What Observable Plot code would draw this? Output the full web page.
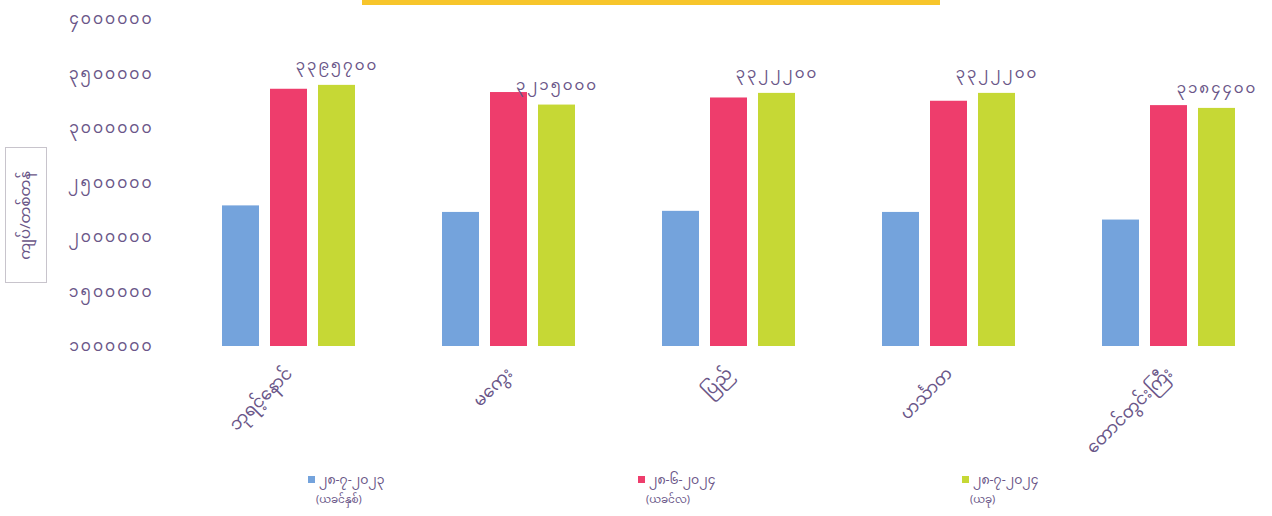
<!DOCTYPE html>
<html>
<head>
<meta charset="utf-8">
<script src="https://cdn.jsdelivr.net/npm/d3@7"></script>
<script src="https://cdn.jsdelivr.net/npm/@observablehq/plot@0.6"></script>
<style>
  html, body { margin: 0; padding: 0; background: #ffffff; }
  body { width: 1272px; height: 516px; position: relative; overflow: hidden;
         font-family: "Noto Sans Myanmar", "Padauk", "Myanmar Text", "Noto Sans", sans-serif; color: #6a5688; }
  #title-strip { position: absolute; left: 362px; top: 0; width: 578px; height: 5px; background: #f7c52b; }
  #ylabel { position: absolute; left: 5px; top: 147px; width: 40px; height: 134px; border: 1px solid #c8c4cc;
            display: flex; align-items: center; justify-content: center; }
  #ylabel span { writing-mode: vertical-rl; transform: rotate(180deg); font-size: 15px; white-space: nowrap; }
  #legend { position: relative; height: 46px; }
  .item { position: absolute; top: 1px; }
  .item .l1 { font-size: 12.5px; line-height: 20px; height: 20px; white-space: nowrap; }
  .item .l2 { font-size: 10.5px; line-height: 20px; height: 20px; white-space: nowrap; padding-left: 8px; }
  .sw { display: inline-block; width: 7px; height: 7px; margin-right: 4px; vertical-align: 1px; }
  .spaced text { letter-spacing: 2px; }
</style>
</head>
<body>
<div id="title-strip"></div>
<div id="chart"></div>
<div id="legend"></div>
<div id="ylabel"><span></span></div>
<script>
const regions = ["ဘုရင့်နောင်", "မကွေး", "ပြည်", "ဟင်္သာတ", "တောင်တွင်းကြီး"];
const seriesKeys = ["s1", "s2", "s3"];
const seriesDates = ["၂၈-၇-၂၀၂၃", "၂၈-၆-၂၀၂၄", "၂၈-၇-၂၀၂၄"];
const seriesNotes = ["(ယခင်နှစ်)", "(ယခင်လ)", "(ယခု)"];
const seriesColors = ["#74a3dc", "#ee3d6c", "#c6d835"];
const prevYear  = [2290000, 2230000, 2240000, 2230000, 2160000];
const prevMonth = [3360000, 3330000, 3280000, 3250000, 3210000];
const current   = [3395700, 3215000, 3322200, 3322200, 3184400];
const yTicks = [1000000, 1500000, 2000000, 2500000, 3000000, 3500000, 4000000];
const yTickLabels = ["၁၀၀၀၀၀၀", "၁၅၀၀၀၀၀", "၂၀၀၀၀၀၀", "၂၅၀၀၀၀၀", "၃၀၀၀၀၀၀", "၃၅၀၀၀၀၀", "၄၀၀၀၀၀၀"];
const yBase = 1000000;
const yTop = 4000000;
const yTitle = "ကျပ်/တစ်တန်";

const mmDigits = "၀၁၂၃၄၅၆၇၈၉";
const toMM = v => String(v).replace(/[0-9]/g, d => mmDigits[+d]);

const seriesValues = [prevYear, prevMonth, current];
const rows = [];
regions.forEach((r, i) => seriesKeys.forEach((k, j) => rows.push({region: r, series: k, value: seriesValues[j][i]})));
const labelRows = regions.map((r, i) => ({region: r, series: "s3", value: current[i], label: toMM(current[i])}));

const textColor = "#6a5688";
const font = "'Noto Sans Myanmar', 'Padauk', 'Myanmar Text', 'Noto Sans', sans-serif";

const chart = Plot.plot({
  width: 1272,
  height: 470,
  marginLeft: 221,
  marginRight: 35,
  marginTop: 19,
  marginBottom: 124,
  style: {fontFamily: font, color: textColor, background: "transparent"},
  fx: {domain: regions, paddingInner: 0.382, paddingOuter: 0},
  x: {domain: seriesKeys, paddingInner: 0.224, paddingOuter: 0, axis: null},
  y: {domain: [yBase, yTop], axis: null},
  color: {domain: seriesKeys, range: seriesColors},
  marks: [
    Plot.axisY({ticks: yTicks, tickFormat: d => yTickLabels[yTicks.indexOf(d)], tickSize: 0, tickPadding: 68,
                fontSize: 15.5, fill: textColor, label: null, className: "spaced"}),
    Plot.axisFx({anchor: "bottom", tickRotate: -45, tickSize: 0, tickPadding: 24, fontSize: 17, fill: textColor, label: null}),
    Plot.barY(rows, {fx: "region", x: "series", y1: yBase, y2: "value", fill: "series"}),
    Plot.text(labelRows, {fx: "region", x: "series", y: "value", text: "label", dy: -20, fontSize: 15, fill: textColor,
                          className: "spaced"})
  ]
});
document.getElementById("chart").appendChild(chart);

document.querySelector("#ylabel span").textContent = yTitle;

const legendLeft = [308, 638, 962];
const legend = document.getElementById("legend");
seriesKeys.forEach((k, j) => {
  const it = document.createElement("div");
  it.className = "item";
  it.style.left = legendLeft[j] + "px";
  it.innerHTML = `<div class="l1"><span class="sw" style="background:${seriesColors[j]}"></span>${seriesDates[j]}</div><div class="l2">${seriesNotes[j]}</div>`;
  legend.appendChild(it);
});
</script>
</body>
</html>
